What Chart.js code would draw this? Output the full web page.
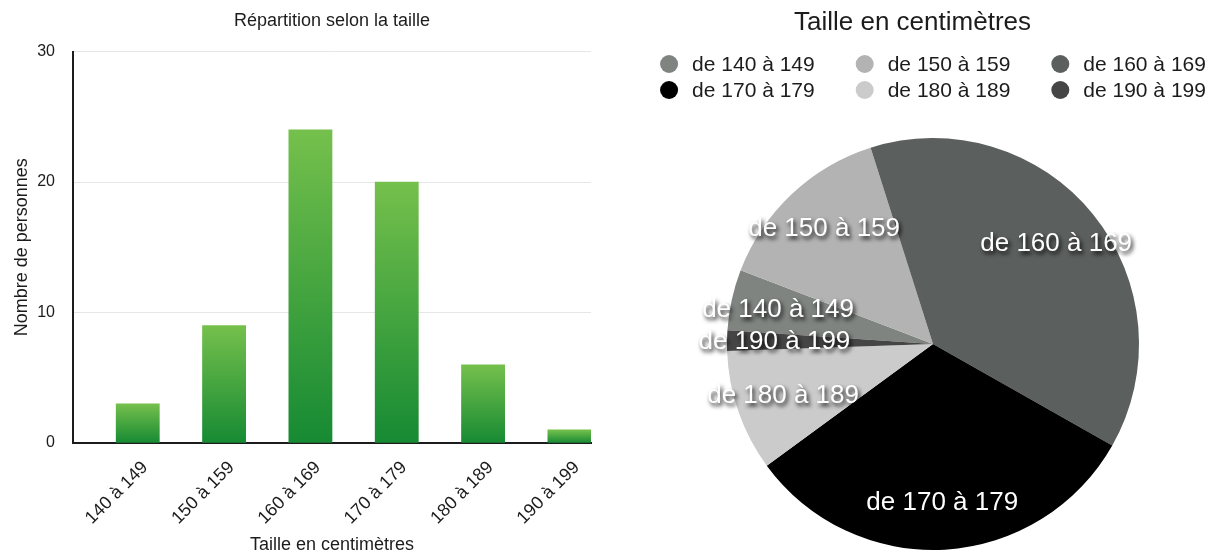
<!DOCTYPE html>
<html>
<head>
<meta charset="utf-8">
<title>Répartition selon la taille</title>
<script src="https://cdn.jsdelivr.net/npm/chart.js@4.4.0/dist/chart.umd.min.js"></script>
<style>
    html, body { margin: 0; padding: 0; background: #fff; }
    #wrap { position: relative; width: 1215px; height: 556px; }
    #barChart { position: absolute; left: 0; top: 0; }
    #pieChart { position: absolute; left: 610px; top: 0; }
</style>
</head>
<body>
<div id="wrap">
    <canvas id="barChart" width="610" height="556"></canvas>
    <canvas id="pieChart" width="605" height="556"></canvas>
</div>
<script>
// ===== DATA =====
const sizeLabels = ['140 à 149', '150 à 159', '160 à 169', '170 à 179', '180 à 189', '190 à 199'];
const peopleCounts = [3, 9, 24, 20, 6, 1];
const yTicks = [0, 10, 20, 30];
const pieLabels = sizeLabels.map(l => 'de ' + l);
const sliceColors = ['#7f8481', '#b3b3b3', '#5b5f5d', '#000000', '#cbcbcb', '#454545'];

const FONT = '"Liberation Sans", Arial, Helvetica, sans-serif';
const TEXT = '#1c1c1c';
Chart.defaults.font.family = FONT;
Chart.defaults.color = TEXT;

// green gradient per bar, light on top and dark at the base
function barFill(ctx) {
    const fallback = '#3fa143';
    if (ctx.type !== 'data') return fallback;
    const chart = ctx.chart;
    const y = chart.scales.y;
    if (!y || ctx.raw == null) return fallback;
    const top = y.getPixelForValue(ctx.raw);
    const base = y.getPixelForValue(0);
    if (!isFinite(top) || !isFinite(base) || top === base) return fallback;
    const g = chart.ctx.createLinearGradient(0, top, 0, base);
    g.addColorStop(0, '#75c04c');
    g.addColorStop(1, '#168a33');
    return g;
}

// ===== BAR CHART =====
new Chart(document.getElementById('barChart'), {
    type: 'bar',
    data: {
        labels: sizeLabels,
        datasets: [
            // empty left half of each slot, the bars sit on the right half
            { data: sizeLabels.map(() => null) },
            { data: peopleCounts, backgroundColor: barFill, borderWidth: 0 }
        ]
    },
    options: {
        responsive: false,
        animation: false,
        events: [],
        layout: { padding: { right: 19 } },
        datasets: { bar: { categoryPercentage: 1, barPercentage: 1 } },
        plugins: {
            legend: { display: false },
            tooltip: { enabled: false },
            title: {
                display: true,
                text: 'Répartition selon la taille',
                fullSize: false,
                color: TEXT,
                font: { size: 18, weight: 'normal' },
                padding: { top: 10, bottom: 20 }
            }
        },
        scales: {
            x: {
                grid: { display: false },
                border: { color: '#1c1c1c', width: 2 },
                ticks: { font: { size: 18 }, minRotation: 45, maxRotation: 45, labelOffset: 29, padding: 6, color: TEXT },
                title: { display: true, text: 'Taille en centimètres', font: { size: 18 }, color: TEXT, padding: { top: 0, bottom: 0 } },
                afterFit: s => { s.height = 113; }
            },
            y: {
                min: 0,
                max: 30,
                afterBuildTicks: s => { s.ticks = yTicks.map(v => ({ value: v })); },
                grid: { color: '#e6e6e6', drawTicks: false },
                border: { color: '#1c1c1c', width: 2 },
                ticks: { font: { size: 16 }, padding: 18, color: TEXT },
                title: { display: true, text: 'Nombre de personnes', font: { size: 18 }, color: TEXT, padding: { top: 11, bottom: 0 } },
                afterFit: s => { s.width = 73; }
            }
        }
    }
});

// ===== PIE CHART =====
const pieDecor = {
    id: 'pieDecor',
    afterDatasetsDraw(chart) {
        const { ctx } = chart;
        const meta = chart.getDatasetMeta(0);
        ctx.save();
        ctx.font = '26px ' + FONT;
        ctx.textAlign = 'center';
        ctx.textBaseline = 'middle';
        ctx.fillStyle = '#fff';
        ctx.shadowColor = 'rgba(0,0,0,0.9)';
        ctx.shadowBlur = 4;
        ctx.shadowOffsetX = 2;
        ctx.shadowOffsetY = 3;
        meta.data.forEach((arc, i) => {
            const { x, y, startAngle, endAngle, outerRadius } =
                arc.getProps(['x', 'y', 'startAngle', 'endAngle', 'outerRadius'], true);
            const mid = (startAngle + endAngle) / 2;
            const r = outerRadius * 0.77;
            ctx.fillText(chart.data.labels[i], x + Math.cos(mid) * r, y + Math.sin(mid) * r);
        });
        ctx.restore();
    },
    afterDraw(chart) {
        const { ctx, chartArea } = chart;
        const colors = chart.data.datasets[0].backgroundColor;
        const labels = chart.data.labels;
        ctx.save();
        ctx.fillStyle = TEXT;
        ctx.font = '26px ' + FONT;
        ctx.textAlign = 'center';
        ctx.textBaseline = 'middle';
        ctx.fillText('Taille en centimètres', chart.width / 2, 23);

        // legend, three per row, centred over the pie
        ctx.font = '21px ' + FONT;
        ctx.textAlign = 'left';
        const perRow = 3, gap = 41, dotR = 9, textGap = 14;
        const cx = (chartArea.left + chartArea.right) / 2;
        for (let r = 0; r * perRow < labels.length; r++) {
            const items = labels.slice(r * perRow, r * perRow + perRow);
            const widths = items.map(t => 2 * dotR + textGap + ctx.measureText(t).width);
            const total = widths.reduce((a, b) => a + b, 0) + gap * (items.length - 1);
            let x = cx - total / 2;
            const y = 64 + r * 26;
            items.forEach((t, i) => {
                ctx.fillStyle = colors[r * perRow + i];
                ctx.beginPath();
                ctx.arc(x + dotR, y, dotR, 0, Math.PI * 2);
                ctx.fill();
                ctx.fillStyle = TEXT;
                ctx.fillText(t, x + 2 * dotR + textGap, y + 1);
                x += widths[i] + gap;
            });
        }
        ctx.restore();
    }
};

new Chart(document.getElementById('pieChart'), {
    type: 'pie',
    data: {
        labels: pieLabels,
        datasets: [{ data: peopleCounts, backgroundColor: sliceColors, borderWidth: 0, hoverOffset: 0 }]
    },
    options: {
        responsive: false,
        animation: false,
        events: [],
        rotation: -86.2,
        layout: { padding: { top: 138, bottom: 6, left: 117, right: 76 } },
        plugins: {
            legend: { display: false },
            tooltip: { enabled: false },
            title: { display: false }
        }
    },
    plugins: [pieDecor]
});
</script>
</body>
</html>
